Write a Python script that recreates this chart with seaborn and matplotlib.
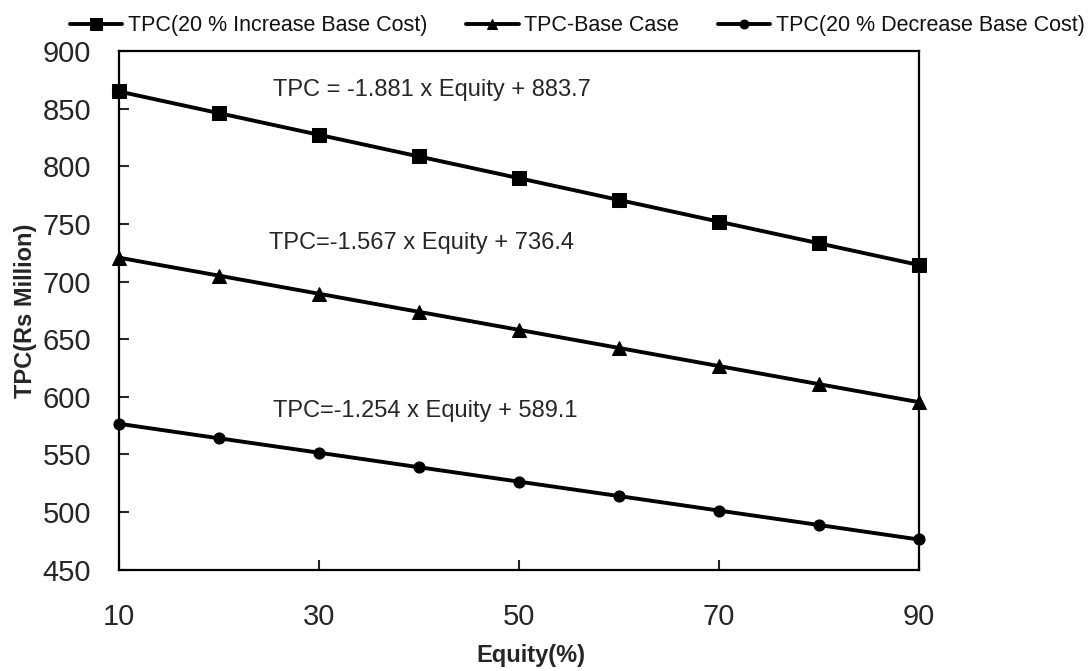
import numpy as np
import pandas as pd
import matplotlib
matplotlib.use("Agg")
import matplotlib.pyplot as plt
import seaborn as sns

equity = [10, 20, 30, 40, 50, 60, 70, 80, 90]
tpc_increase = [864.9, 846.1, 827.3, 808.5, 789.7, 770.8, 752.0, 733.2, 714.4]
tpc_base = [720.7, 705.1, 689.4, 673.7, 658.1, 642.4, 626.7, 611.0, 595.4]
tpc_decrease = [576.6, 564.0, 551.5, 538.9, 526.4, 513.9, 501.3, 488.8, 476.2]

series_names = ["TPC(20 % Increase Base Cost)", "TPC-Base Case", "TPC(20 % Decrease Base Cost)"]
eq_labels = ["TPC = -1.881 x Equity + 883.7",
             "TPC=-1.567 x Equity + 736.4",
             "TPC=-1.254 x Equity + 589.1"]
x_ticks = [10, 30, 50, 70, 90]
y_ticks = [450, 500, 550, 600, 650, 700, 750, 800, 850, 900]

sns.set_style("ticks")
plt.rcParams["font.family"] = ["Liberation Sans", "DejaVu Sans"]

df = pd.DataFrame({
    "Equity": equity * 3,
    "TPC": tpc_increase + tpc_base + tpc_decrease,
    "Series": [series_names[0]] * 9 + [series_names[1]] * 9 + [series_names[2]] * 9,
})

fig = plt.figure(figsize=(10.91, 6.71), dpi=100)
ax = fig.add_axes([0.109, 0.151, 0.733, 0.773])

markers = {series_names[0]: "s", series_names[1]: "^", series_names[2]: "o"}
sizes = {series_names[0]: 10, series_names[1]: 9.5, series_names[2]: 8}
for name in series_names:
    sub = df[df["Series"] == name]
    sns.lineplot(data=sub, x="Equity", y="TPC", ax=ax, color="black", lw=2.8,
                 marker=markers[name], markersize=sizes[name], markeredgecolor="black",
                 label=name, clip_on=False, zorder=3)

ax.set_xlim(10, 90)
ax.set_ylim(450, 900)
ax.set_xticks(x_ticks)
ax.set_yticks(y_ticks)
ax.tick_params(axis="both", direction="in", length=7, width=1.5, labelsize=21)
ax.tick_params(axis="x", pad=24)
ax.tick_params(axis="y", pad=20)
for sp in ax.spines.values():
    sp.set_linewidth(1.6)
    sp.set_color("black")

ax.set_xlabel("Equity(%)", fontsize=17, fontweight="bold")
ax.xaxis.set_label_coords(0.515, -0.143)
ax.set_ylabel("TPC(Rs Million)", fontsize=17, fontweight="bold", labelpad=4)

eq_pos = [(25.4, 866), (25.0, 733.5), (25.4, 588)]
for (xx, yy), txt in zip(eq_pos, eq_labels):
    ax.text(xx, yy, txt, fontsize=17, va="center", ha="left")

leg = ax.legend(loc="lower center", bbox_to_anchor=(0.573, 1.014), ncol=3, frameon=False,
                fontsize=15.5, handlelength=2.45, columnspacing=1.8, handletextpad=0.25,
                borderaxespad=0.15, borderpad=0.2, markerscale=0.8)
for t in leg.get_texts():
    t.set_color("#111111")

fig.savefig("out.png", dpi=100, facecolor="white")
